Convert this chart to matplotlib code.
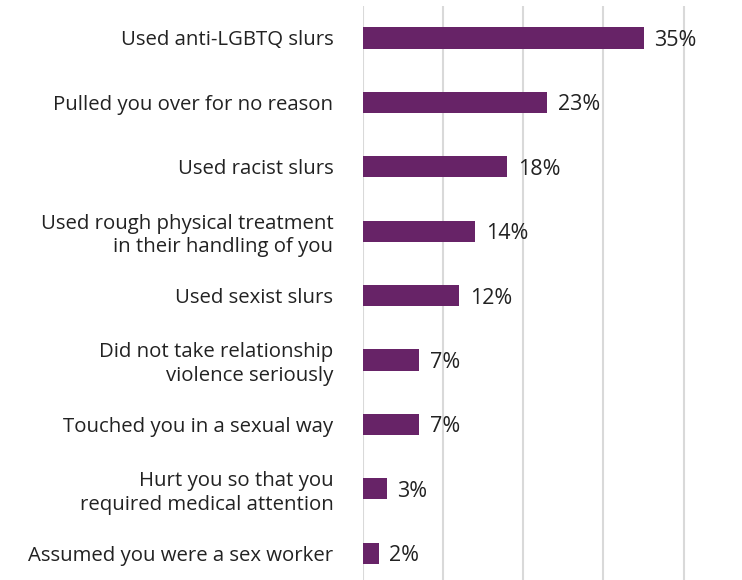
import matplotlib.pyplot as plt
import numpy as np

plt.rcParams['font.family'] = ['Open Sans', 'DejaVu Sans']

labels = ['Used anti-LGBTQ slurs',
          'Pulled you over for no reason',
          'Used racist slurs',
          'Used rough physical treatment\nin their handling of you',
          'Used sexist slurs',
          'Did not take relationship\nviolence seriously',
          'Touched you in a sexual way',
          'Hurt you so that you\nrequired medical attention',
          'Assumed you were a sex worker']
values = [35, 23, 18, 14, 12, 7, 7, 3, 2]

W, H = 742, 580
fig = plt.figure(figsize=(W / 100, H / 100), dpi=100)
# axes: x=0 at 362.5px, 8.03px per percent; rows 64.4px apart, first centre at 38px
left = 362.5
px_per = 8.03
row = 64.4
top = 38 - row / 2
bottom = top + row * len(values)
ax = fig.add_axes([left / W, 1 - bottom / H, (W - left) / W, (bottom - top) / H])

y = np.arange(len(values))
ax.barh(y, values, height=0.33, color='#672367', zorder=3)
ax.set_xlim(0, (W - left) / px_per)
ax.set_ylim(len(values) - 0.5, -0.5)

for gx in [0, 10, 20, 30, 40]:
    ax.axvline(gx, color='#d9d9d9', lw=1.5, zorder=1)

for yi, v in zip(y, values):
    ax.text(v + 1.35, yi + 0.04, f'{v}%', va='center', ha='left',
            fontsize=15.5, color='#222222')

ax.set_yticks(y)
ax.set_yticklabels(labels, fontsize=14.7, color='#222222', linespacing=1.25)
ax.tick_params(axis='y', length=0, pad=21)
ax.set_xticks([])
for s in ax.spines.values():
    s.set_visible(False)

fig.savefig('out.png', dpi=100)
